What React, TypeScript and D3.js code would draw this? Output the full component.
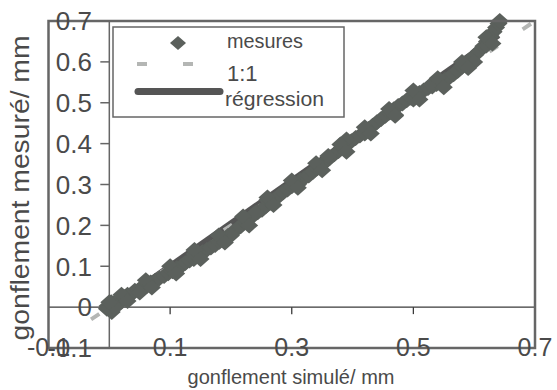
import React from "react";
import * as d3 from "d3";

const W = 557;
const H = 390;

const xTicksLabels = [-0.1, 0.1, 0.3, 0.5, 0.7];
const xInnerTicks = [0.1, 0.3, 0.5];
const yTickLabels = [-0.1, 0, 0.1, 0.2, 0.3, 0.4, 0.5, 0.6, 0.7];
const yInnerTicks = [0.1, 0.2, 0.3, 0.4, 0.5, 0.6];

const mesuresX = [
  0.0, 0.002, -0.003, 0.004, 0.006, 0.003, 0.008, 0.012, 0.016, 0.02, 0.025, 0.03, 0.036, 0.042, 0.048,
  0.055, 0.062, 0.068, 0.075, 0.082, 0.09, 0.097, 0.104, 0.111, 0.118, 0.125, 0.132, 0.139, 0.146,
  0.153, 0.16, 0.167, 0.174, 0.181, 0.188, 0.195, 0.202, 0.209, 0.216, 0.223, 0.23, 0.237, 0.244,
  0.251, 0.258, 0.265, 0.272, 0.279, 0.286, 0.293, 0.3, 0.307, 0.314, 0.321, 0.328, 0.335, 0.342,
  0.349, 0.356, 0.363, 0.37, 0.377, 0.384, 0.391, 0.398, 0.405, 0.412, 0.419, 0.426, 0.433, 0.44,
  0.447, 0.454, 0.461, 0.468, 0.475, 0.482, 0.489, 0.496, 0.503, 0.51, 0.517, 0.524, 0.531, 0.538,
  0.545, 0.552, 0.559, 0.566, 0.573, 0.58, 0.587, 0.594, 0.601, 0.608, 0.615, 0.621, 0.627, 0.632,
  0.636, 0.64, 0.642,
  0.05, 0.14, 0.2, 0.26, 0.31, 0.36, 0.42, 0.47, 0.53, 0.58, 0.62, 0.11, 0.24, 0.39, 0.5, 0.6,
  0.02, 0.06, 0.1, 0.14, 0.18, 0.22, 0.26, 0.3, 0.34, 0.38, 0.42, 0.46, 0.5, 0.54, 0.58, 0.62,
  0.03, 0.07, 0.11, 0.15, 0.19, 0.23, 0.27, 0.31, 0.35, 0.39, 0.43, 0.47, 0.51, 0.55, 0.59, 0.63,
  0.004, -0.004, 0.01, 0.0,
];
const mesuresY = [
  0.0, -0.006, 0.003, 0.008, 0.002, 0.012, 0.01, 0.008, 0.016, 0.014, 0.024, 0.03, 0.031, 0.04, 0.042,
  0.05, 0.052, 0.06, 0.064, 0.07, 0.076, 0.083, 0.088, 0.096, 0.1, 0.108, 0.114, 0.118, 0.126,
  0.134, 0.14, 0.146, 0.152, 0.16, 0.168, 0.174, 0.182, 0.19, 0.198, 0.208, 0.216, 0.224, 0.232,
  0.238, 0.248, 0.256, 0.264, 0.272, 0.281, 0.288, 0.296, 0.302, 0.31, 0.316, 0.322, 0.331, 0.34,
  0.348, 0.356, 0.366, 0.374, 0.382, 0.39, 0.398, 0.406, 0.414, 0.42, 0.428, 0.436, 0.444, 0.452,
  0.46, 0.468, 0.476, 0.484, 0.492, 0.498, 0.506, 0.512, 0.518, 0.524, 0.53, 0.536, 0.54, 0.546,
  0.55, 0.556, 0.562, 0.57, 0.578, 0.588, 0.598, 0.606, 0.616, 0.626, 0.638, 0.65, 0.662, 0.674,
  0.684, 0.694, 0.7,
  0.036, 0.13, 0.175, 0.262, 0.3, 0.37, 0.425, 0.47, 0.545, 0.59, 0.64, 0.09, 0.23, 0.41, 0.508, 0.6,
  0.03, 0.066, 0.1, 0.14, 0.175, 0.222, 0.268, 0.31, 0.352, 0.398, 0.44, 0.485, 0.53, 0.56, 0.6, 0.66,
  0.015, 0.048, 0.082, 0.118, 0.158, 0.2, 0.25, 0.292, 0.335, 0.38, 0.425, 0.468, 0.508, 0.538, 0.585, 0.645,
  -0.012, -0.004, 0.0, 0.012,
];

const oneToOneX = [-0.03, 0.7];
const oneToOneY = [-0.03, 0.7];
const regressionX = [0.0, 0.64];
const regressionY = [-0.004, 0.665];

const legendLabels = ["mesures", "1:1", "régression"];

const MARKER = "#5b605c";
const FRAME = "#666666";
const TEXT = "#4a4a4a";
const FONT = "'Liberation Sans', Arial, sans-serif";

export default function App() {
  const x = d3.scaleLinear().domain([-0.1, 0.7]).range([48.5, 535]);
  const y = d3.scaleLinear().domain([-0.1, 0.7]).range([348, 21]);
  const line = d3
    .line<[number, number]>()
    .x((d) => x(d[0]))
    .y((d) => y(d[1]));

  const pts = mesuresX.map((v, i) => [v, mesuresY[i]] as [number, number]);
  const diamond = (cx: number, cy: number, hw = 8, hh = 7) =>
    `M${cx},${cy - hh}L${cx + hw},${cy}L${cx},${cy + hh}L${cx - hw},${cy}Z`;

  const fmt = (v: number) => (v === 0 ? "0" : String(v));

  return (
    <svg
      width={W}
      height={H}
      style={{ position: "absolute", left: 0, top: 0, background: "#fff" }}
      fontFamily={FONT}
    >
      <rect x={0} y={0} width={W} height={H} fill="#fff" />
      {/* regression (under) */}
      <path
        d={line(regressionX.map((v, i) => [v, regressionY[i]]) as any) || ""}
        stroke="#555"
        strokeWidth={6}
        fill="none"
      />
      {/* 1:1 */}
      <path
        d={line(oneToOneX.map((v, i) => [v, oneToOneY[i]]) as any) || ""}
        stroke="#b4b6b4"
        strokeWidth={4}
        strokeDasharray="10,30"
        fill="none"
      />
      {/* inner axes */}
      <line x1={x(0)} x2={x(0)} y1={y(0.7)} y2={y(-0.1)} stroke={FRAME} strokeWidth={1.5} />
      <line x1={x(-0.1)} x2={x(0.7)} y1={y(0)} y2={y(0)} stroke="#3a3a3a" strokeWidth={1.3} />
      {xInnerTicks.map((t) => (
        <line key={"xt" + t} x1={x(t)} x2={x(t)} y1={y(0)} y2={y(0) + 7} stroke="#3a3a3a" strokeWidth={1.3} />
      ))}
      {yInnerTicks.map((t) => (
        <line key={"yt" + t} x1={x(0) - 9} x2={x(0)} y1={y(t)} y2={y(t)} stroke={FRAME} strokeWidth={1.5} />
      ))}
      {/* markers */}
      {pts.map((p, i) => (
        <path key={"m" + i} d={diamond(x(p[0]), y(p[1]), 9, 8)} fill={MARKER} />
      ))}
      {/* frame */}
      <rect
        x={x(-0.1)}
        y={y(0.7)}
        width={x(0.7) - x(-0.1)}
        height={y(-0.1) - y(0.7)}
        fill="none"
        stroke={FRAME}
        strokeWidth={2.5}
      />
      {/* y tick labels */}
      {yTickLabels.map((t) => (
        <text
          key={"yl" + t}
          x={92}
          y={y(t)}
          dy="0.36em"
          textAnchor="end"
          fontSize={26}
          fill={TEXT}
        >
          {fmt(t)}
        </text>
      ))}
      {/* x tick labels */}
      {xTicksLabels.map((t) => (
        <text
          key={"xl" + t}
          x={x(t)}
          y={356}
          textAnchor="middle"
          fontSize={25}
          fill={TEXT}
        >
          {fmt(t)}
        </text>
      ))}
      {/* axis titles */}
      <text
        x={291}
        y={384}
        textAnchor="middle"
        fontSize={21}
        textLength={207}
        lengthAdjust="spacingAndGlyphs"
        fill={TEXT}
      >
        gonflement simulé/ mm
      </text>
      <text
        transform="translate(29,188) rotate(-90)"
        x={0}
        y={0}
        textAnchor="middle"
        fontSize={26}
        textLength={305}
        lengthAdjust="spacingAndGlyphs"
        fill={TEXT}
      >
        gonflement mesuré/ mm
      </text>
      {/* legend */}
      <rect x={113} y={27} width={231} height={90} fill="#fff" stroke={FRAME} strokeWidth={1.5} />
      <path d={diamond(178, 43)} fill={MARKER} />
      <line x1={137} x2={222} y1={64} y2={64} stroke="#b4b6b4" strokeWidth={4} strokeDasharray="10,36" />
      <line x1={138} x2={220} y1={91.5} y2={91.5} stroke="#555" strokeWidth={7} strokeLinecap="round" />
      <text x={227} y={48} fontSize={20} fill={TEXT} textLength={76} lengthAdjust="spacingAndGlyphs">
        {legendLabels[0]}
      </text>
      <text x={227} y={81} fontSize={22} fill={TEXT}>
        {legendLabels[1]}
      </text>
      <text x={225} y={106} fontSize={21} fill={TEXT} textLength={99} lengthAdjust="spacingAndGlyphs">
        {legendLabels[2]}
      </text>
    </svg>
  );
}
